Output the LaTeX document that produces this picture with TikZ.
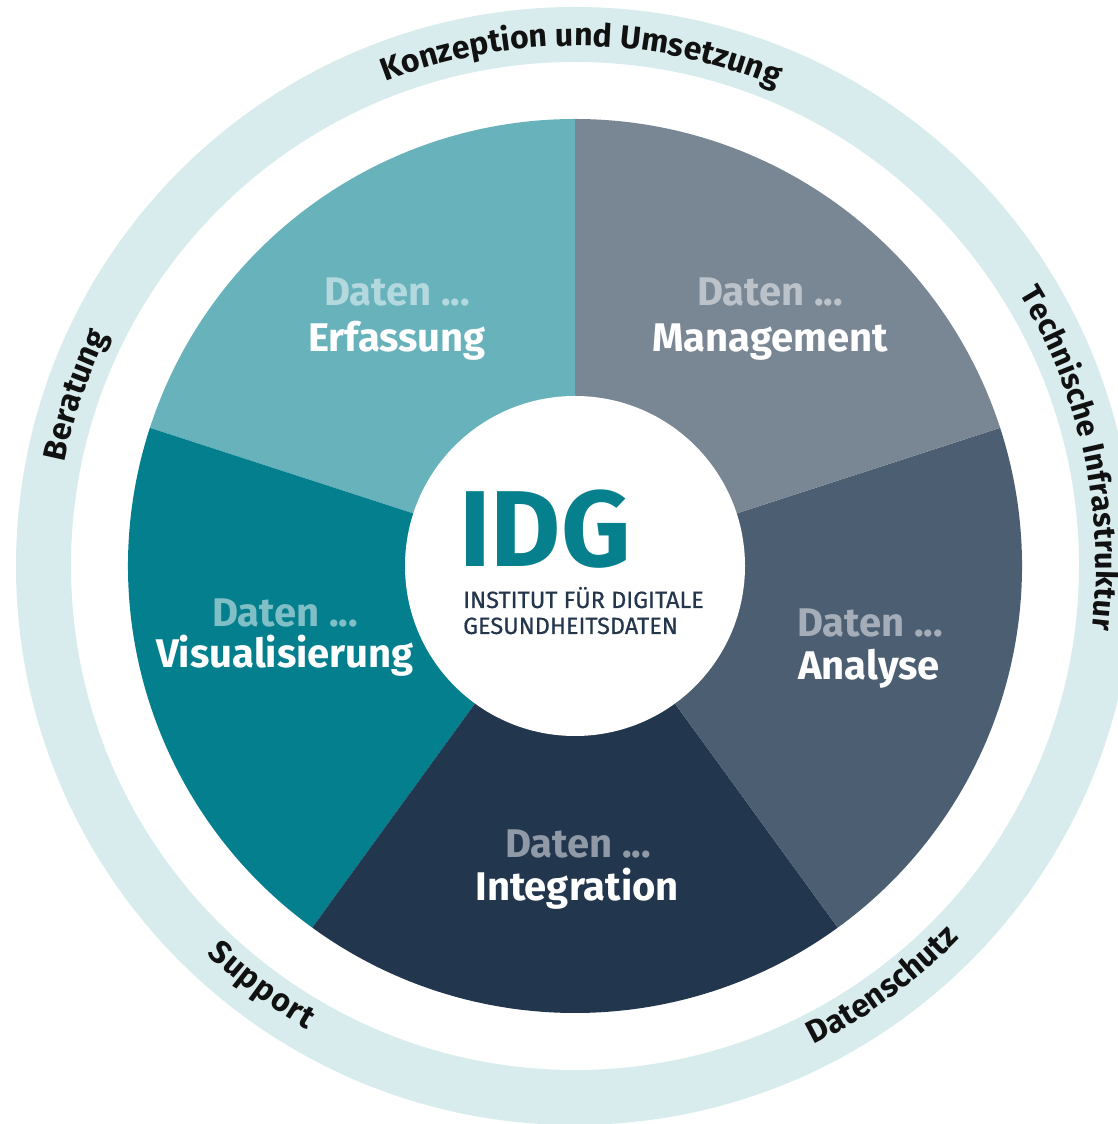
\documentclass[tikz,border=0pt]{standalone}
\usepackage{fontspec}
\setmainfont{Fira Sans}
\newfontfamily\subfamily{Fira Sans}[FakeBold=0.6]
\usetikzlibrary{decorations.text}
\definecolor{ringc}{HTML}{D8ECEE}
\definecolor{cerf}{HTML}{67B2BB}
\definecolor{cman}{HTML}{798693}
\definecolor{cana}{HTML}{4C5E71}
\definecolor{cint}{HTML}{22364D}
\definecolor{cvis}{HTML}{037F8E}
\definecolor{clogo}{HTML}{06808D}
\definecolor{csub}{HTML}{23364C}
\definecolor{cring}{HTML}{111111}
\newcommand{\ringfont}{\fontsize{32}{32}\selectfont\bfseries\color{cring}}
\newcommand{\ringfontsmall}{\fontsize{30.5}{30.5}\selectfont\bfseries\color{cring}}
\tikzset{
  datenlbl/.style={anchor=base, inner sep=0pt, text=white, text opacity=0.5, font=\fontsize{40}{44}\selectfont\bfseries},
  mainlbl/.style={anchor=base, inner sep=0pt, text=white, font=\fontsize{40}{44}\selectfont\bfseries},
  sublbl/.style={anchor=base west, inner sep=0pt, text=csub, font=\fontsize{23.5}{26}\subfamily},
  ringtext/.style={decorate, decoration={text along path, text align=fit to path, text={|\ringfont|#1}}},
  ringtextsmall/.style={decorate, decoration={text along path, text align=fit to path, text={|\ringfontsmall|#1}}}
}
\begin{document}
\begin{tikzpicture}[x=1pt,y=1pt]
\useasboundingbox (0,0) rectangle (1117,1124);
\coordinate (C) at (575,558);
% outer ring
\fill[ringc, even odd rule] (C) circle[radius=559] (C) circle[radius=504];
% slices
\begin{scope}[shift={(C)}]
\fill[cerf] (0,0) -- (90:447) arc[start angle=90, end angle=162, radius=447] -- cycle;
\fill[cvis] (0,0) -- (162:447) arc[start angle=162, end angle=234, radius=447] -- cycle;
\fill[cint] (0,0) -- (234:447) arc[start angle=234, end angle=306, radius=447] -- cycle;
\fill[cana] (0,0) -- (306:447) arc[start angle=306, end angle=378, radius=447] -- cycle;
\fill[cman] (0,0) -- (18:447) arc[start angle=18, end angle=90, radius=447] -- cycle;
\fill[white] (0,0) circle[radius=170];
% ring texts
\path[ringtext={Konzeption und Umsetzung}] (111.4:520) arc[start angle=111.4, end angle=67.4, radius=520];
\path[ringtextsmall={Technische Infrastruktur}] (31.5:521) arc[start angle=31.5, end angle=-7, radius=521];
\path[ringtext={Datenschutz}] (-63.5:535) arc[start angle=-63.5, end angle=-44.5, radius=535];
\path[ringtext={Support}] (-133.5:535) arc[start angle=-133.5, end angle=-120, radius=535];
\path[ringtext={Beratung}] (168.5:521) arc[start angle=168.5, end angle=154.5, radius=521];
\end{scope}
% slice labels
\node[datenlbl] (d1) at (397,818) {Daten ...};
\node[mainlbl]  (l1) at (397,772) {Erfassung};
\node[datenlbl] (d2) at (770,818) {Daten ...};
\node[mainlbl]  (l2) at (770,772) {Management};
\node[datenlbl] (d3) at (870,487) {Daten ...};
\node[mainlbl]  (l3) at (869,444) {Analyse};
\node[datenlbl] (d4) at (578,266) {Daten ...};
\node[mainlbl]  (l4) at (577,223) {Integration};
\node[datenlbl] (d5) at (285,497) {Daten ...};
\node[mainlbl]  (l5) at (285,456) {Visualisierung};
% logo
\node[anchor=base west, inner sep=0pt, text=clogo, font=\fontsize{108}{108}\selectfont\bfseries] (logo) at (459,557) {IDG};
\node[sublbl] (sub1) at (463,516) {INSTITUT FÜR DIGITALE};
\node[sublbl] (sub2) at (463,490) {GESUNDHEITSDATEN};
\end{tikzpicture}
\end{document}
